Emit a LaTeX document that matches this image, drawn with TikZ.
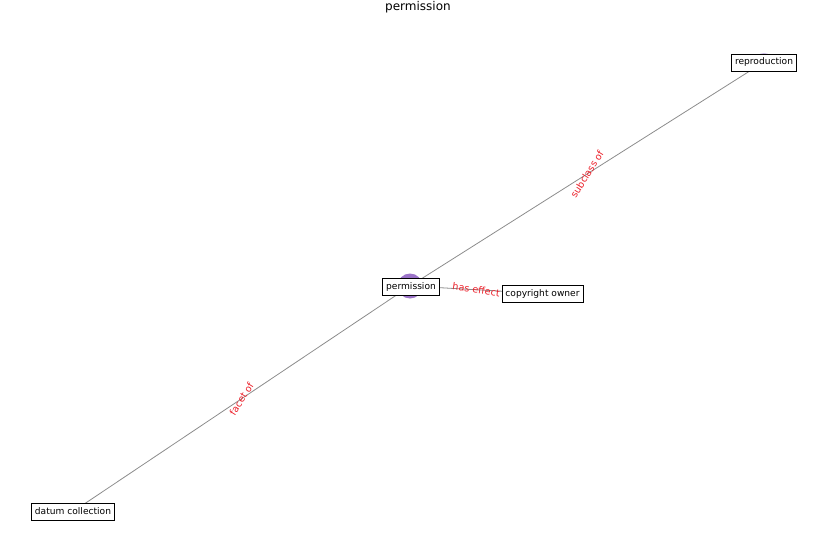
\documentclass[tikz,border=0pt]{standalone}
\usepackage{fontspec}
\setmainfont{DejaVu Sans}
\usetikzlibrary{backgrounds}
\definecolor{nodepurple}{RGB}{155,115,200}
\definecolor{palepurple}{RGB}{205,190,230}
\definecolor{edgegray}{RGB}{140,140,140}
\definecolor{labelred}{RGB}{235,30,40}
\tikzset{
  ent/.style={draw=black, line width=0.8pt, fill=white, inner xsep=3.4pt, inner ysep=4pt,
    text height=7pt, text depth=2pt, font=\fontsize{9.1}{10}\selectfont},
  dot/.style={circle, fill=#1, draw=none, inner sep=0pt},
  edge/.style={draw=edgegray, line width=0.8pt},
  elabel/.style={text=labelred, inner sep=0pt, font=\fontsize{9.6}{11}\selectfont},
  ttl/.style={font=\fontsize{12}{14}\selectfont, anchor=base}
}
\begin{document}
\begin{tikzpicture}[x=1pt,y=-1pt]
\useasboundingbox (0,0) rectangle (837,559);
\node[ttl] (title) at (418,10.5) {permission};
% node markers
\node[dot=nodepurple, minimum size=25pt] (pdot) at (410,286) {};
\node[dot=palepurple, minimum size=18pt] (rdot) at (764,62) {};
% entity boxes
\node[ent] (perm) at (411,287) {permission};
\node[ent] (copy) at (542.5,293.5) {copyright owner};
\node[ent] (repr) at (764,62.5) {reproduction};
\node[ent] (datum) at (73,511.5) {datum collection};
% connectors
\begin{scope}[on background layer]
\draw[edge] (pdot.center) -- node[elabel, rotate=58] {subclass of} (rdot.center);
\draw[edge] (pdot.center) -- node[elabel, rotate=-8] {has effect} (copy.center);
\draw[edge] (datum.center) -- node[elabel, rotate=58] {facet of} (pdot.center);
\end{scope}
\end{tikzpicture}
\end{document}
